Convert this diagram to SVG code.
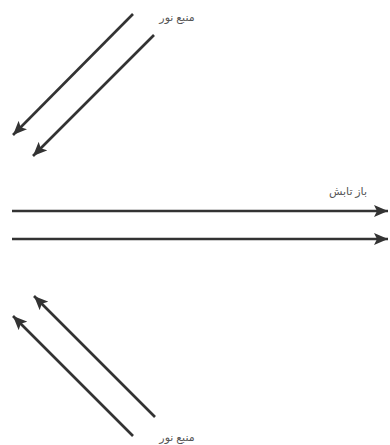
<svg xmlns="http://www.w3.org/2000/svg" width="390" height="445" viewBox="0 0 390 445">
<style>
.ray{stroke:#333;stroke-width:2.6;fill:none;marker-end:url(#ah)}
.lbl{font-family:"Noto Sans","DejaVu Sans",sans-serif;font-size:11px;fill:#555}
</style>
<defs>
<marker id="ah" markerUnits="userSpaceOnUse" markerWidth="16" markerHeight="12" refX="14" refY="6" orient="auto">
<path d="M0,0 L14,6 L0,12 L3,6 Z" fill="#333"/>
</marker>
</defs>
<rect width="390" height="445" fill="#fff"/>
<g id="connectors">
<line class="ray" x1="133" y1="14" x2="13" y2="135"/>
<line class="ray" x1="154" y1="35" x2="33" y2="156"/>
<line class="ray" x1="12" y1="211" x2="388" y2="211"/>
<line class="ray" x1="12" y1="239" x2="388" y2="239"/>
<line class="ray" x1="133" y1="436" x2="13" y2="316"/>
<line class="ray" x1="155" y1="417" x2="34" y2="296"/>
</g>
<g id="label-top"><text class="lbl" x="177" y="21" text-anchor="middle" direction="rtl">منبع نور</text></g>
<g id="label-mid"><text class="lbl" x="348" y="195" text-anchor="middle" direction="rtl">باز تابش</text></g>
<g id="label-bottom"><text class="lbl" x="177" y="441" text-anchor="middle" direction="rtl">منبع نور</text></g>
</svg>
